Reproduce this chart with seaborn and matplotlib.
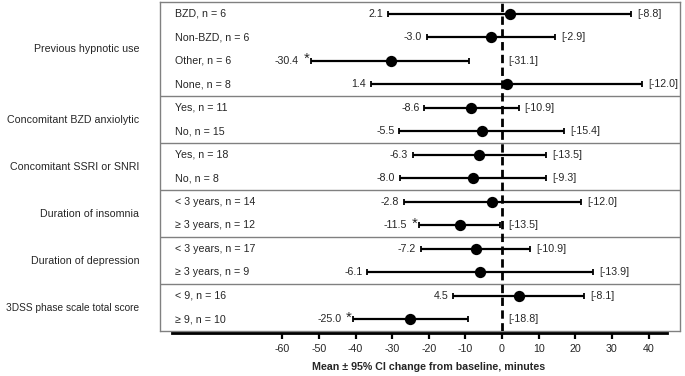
import matplotlib
matplotlib.use("Agg")
import matplotlib.pyplot as plt
import matplotlib.transforms as mtransforms
import seaborn as sns
import pandas as pd
import numpy as np

sns.set_style("white")
plt.rcParams["font.family"] = ["Liberation Sans", "DejaVu Sans"]
plt.rcParams["axes.unicode_minus"] = False

group_names = ["Previous hypnotic use", "Concomitant BZD anxiolytic",
               "Concomitant SSRI or SNRI", "Duration of insomnia",
               "Duration of depression", "3DSS phase scale total score"]
group_sizes = [4, 2, 2, 2, 2, 2]
subgroups = ["BZD, n = 6", "Non-BZD, n = 6", "Other, n = 6", "None, n = 8",
             "Yes, n = 11", "No, n = 15",
             "Yes, n = 18", "No, n = 8",
             "< 3 years, n = 14", "\u2265 3 years, n = 12",
             "< 3 years, n = 17", "\u2265 3 years, n = 9",
             "< 9, n = 16", "\u2265 9, n = 10"]
means = [2.1, -3.0, -30.4, 1.4, -8.6, -5.5, -6.3, -8.0, -2.8, -11.5, -7.2, -6.1, 4.5, -25.0]
lower = [-31.1, -20.6, -52.3, -35.8, -21.2, -28.1, -24.4, -27.9, -26.8, -22.6, -22.2, -36.8, -13.3, -40.6]
upper = [35.2, 14.5, -8.9, 38.2, 4.5, 16.9, 11.9, 11.9, 21.5, -0.5, 7.7, 24.8, 22.4, -9.2]
brackets = [-8.8, -2.9, -31.1, -12.0, -10.9, -15.4, -13.5, -9.3, -12.0, -13.5, -10.9, -13.9, -8.1, -18.8]
starred = [False, False, True, False, False, False, False, False, False, True, False, False, False, True]
xticks = [-60, -50, -40, -30, -20, -10, 0, 10, 20, 30, 40]
xlabel = "Mean \u00b1 95% CI change from baseline, minutes"

df = pd.DataFrame({"sub": subgroups, "mean": means, "lo": lower, "hi": upper,
                   "br": brackets, "star": starred})
df["row"] = np.arange(len(df))

fs = 7.7
fig = plt.figure(figsize=(6.85, 3.76), dpi=100)
ax = fig.add_axes([160 / 685, 1 - 331 / 376, 520 / 685, 329 / 376])
ax.set_xlim(-93.4, 48.6)
ax.set_ylim(13.5, -0.5)

# zero line
ax.axvline(0, color="black", lw=2.0, linestyle=(0, (3, 1.6)), zorder=1)

# whiskers
ax.errorbar(df["mean"], df["row"],
            xerr=[df["mean"] - df["lo"], df["hi"] - df["mean"]],
            fmt="none", ecolor="black", elinewidth=1.6, capsize=2.5, capthick=1.3, zorder=2)
sns.scatterplot(data=df, x="mean", y="row", ax=ax, color="black", s=66,
                edgecolor="black", linewidth=0, zorder=3, legend=False)

# group separators
b = 0
for n in group_sizes[:-1]:
    b += n
    ax.axhline(b - 0.5, color="#808080", lw=1.0, zorder=0)

# labels
axtrans = mtransforms.blended_transform_factory(ax.transAxes, ax.transData)
for _, r in df.iterrows():
    ax.text(0.029, r["row"], r["sub"], transform=axtrans, ha="left", va="center", fontsize=fs)
    if r["star"]:
        ax.text(r["lo"] - 0.4, r["row"] - 0.08, "*", ha="right", va="center", fontsize=fs + 3)
        ax.text(r["lo"] - 3.3, r["row"], f"{r['mean']:.1f}", ha="right", va="center", fontsize=fs)
    else:
        ax.text(r["lo"] - 1.3, r["row"], f"{r['mean']:.1f}", ha="right", va="center", fontsize=fs)
    ax.text(max(r["hi"], 0) + 1.7, r["row"], f"[{r['br']:.1f}]", ha="left", va="center", fontsize=fs)

start = 0
for name, n in zip(group_names, group_sizes):
    yc = start + (n - 1) / 2
    gfs = fs if len(name) < 27 else 7.3
    ax.text(-0.04, yc, name, transform=axtrans, ha="right", va="center", fontsize=gfs)
    start += n

# box spines
for s in ["left", "right", "top"]:
    ax.spines[s].set_visible(True)
    ax.spines[s].set_color("#808080")
    ax.spines[s].set_linewidth(1.0)
ax.axhline(13.5, color="#808080", lw=1.0, zorder=0, clip_on=False)
ax.spines["bottom"].set_visible(True)
ax.spines["bottom"].set_color("black")
ax.spines["bottom"].set_linewidth(2.0)
ax.spines["bottom"].set_position(("outward", 1.5))
ax.spines["bottom"].set_bounds(-90, 45)

ax.set_xticks(xticks)
ax.set_xticklabels([str(t) for t in xticks])
ax.tick_params(axis="x", direction="out", length=4, width=1.6, color="black",
               labelsize=fs, pad=4, bottom=True)
ax.set_yticks([])
ax.set_ylabel("")
ax.set_xlabel(xlabel, fontsize=fs, fontweight="bold")
ax.xaxis.set_label_coords((-20 + 93.4) / 142.0, -0.094)

fig.savefig("out.png", dpi=100)
